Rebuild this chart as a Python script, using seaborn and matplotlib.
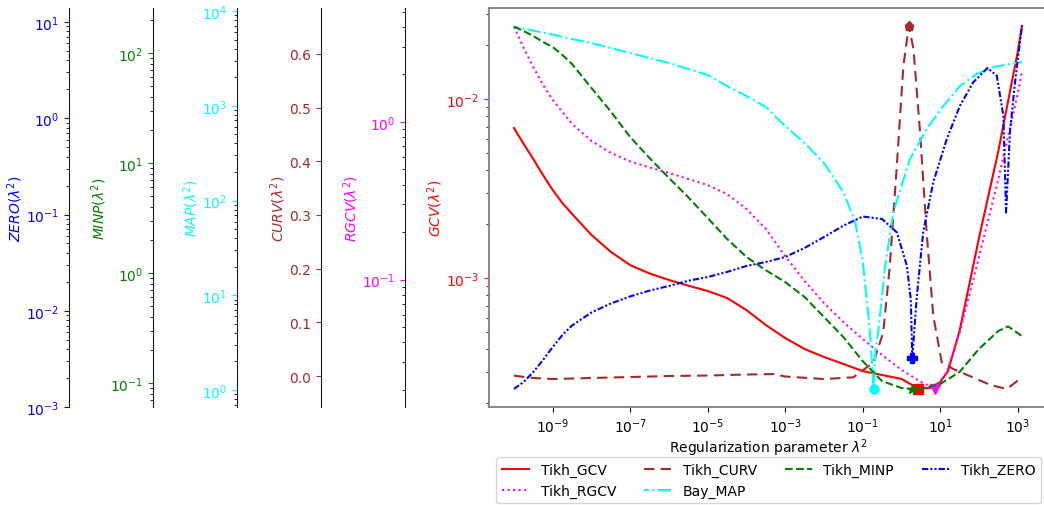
import numpy as np
import matplotlib
matplotlib.use("Agg")
import matplotlib.pyplot as plt
from matplotlib.ticker import NullLocator
import seaborn as sns

# ---------------- data ----------------
# Tikh_GCV
lam2_gcv = [1e-10, 1.78e-10, 3.16e-10, 5.62e-10, 1e-9, 1.78e-9, 3.16e-9, 1e-8, 3.16e-8, 1e-7,
            3.16e-7, 1e-6, 3.16e-6, 1e-5, 3.16e-5, 1e-4, 3.16e-4, 1e-3, 3.16e-3, 1e-2,
            3.16e-2, 0.1, 0.316, 1.0, 2.818, 5.623, 10.0, 15.85, 31.62, 100.0,
            316.2, 1000.0, 1288.0]
gcv = [6.88e-3, 5.61e-3, 4.62e-3, 3.76e-3, 3.10e-3, 2.62e-3, 2.28e-3, 1.74e-3, 1.40e-3, 1.18e-3,
       1.06e-3, 9.75e-4, 9.06e-4, 8.46e-4, 7.73e-4, 6.62e-4, 5.46e-4, 4.62e-4, 4.01e-4, 3.62e-4,
       3.31e-4, 3.02e-4, 2.87e-4, 2.73e-4, 2.40e-4, 2.44e-4, 2.62e-4, 3.02e-4, 5.06e-4, 1.67e-3,
       5.12e-3, 1.83e-2, 2.56e-2]

# Tikh_RGCV
lam2_rgcv = [1e-10, 1.78e-10, 3.16e-10, 5.62e-10, 1e-9, 3.16e-9, 1e-8, 3.16e-8, 1e-7, 3.16e-7,
             1e-6, 3.16e-6, 1e-5, 3.16e-5, 1e-4, 3.16e-4, 1e-3, 3.16e-3, 1e-2, 3.16e-2,
             0.1, 0.316, 1.0, 3.162, 7.244, 14.79, 31.62, 100.0, 316.2, 1000.0,
             1288.0]
rgcv = [4.02, 2.95, 2.23, 1.72, 1.38, 0.971, 0.758, 0.636, 0.562, 0.515,
        0.475, 0.435, 0.398, 0.349, 0.281, 0.210, 0.141, 0.0981, 0.0712, 0.0539,
        0.0421, 0.0333, 0.0268, 0.0225, 0.0203, 0.0260, 0.0459, 0.139, 0.435, 1.50,
        2.11]

# Tikh_CURV
lam2_curv = [1e-10, 3.16e-10, 1e-9, 1e-8, 1e-7, 1e-6, 1e-5, 1e-4, 5.01e-4, 1e-3,
             1e-2, 0.0575, 0.191, 0.339, 0.501, 0.759, 1.122, 1.549, 2.042, 3.020,
             4.467, 6.607, 10.96, 21.88, 87.10, 199.5, 524.8, 1288.0]
curv = [0.0006, -0.0037, -0.0056, -0.0037, -0.0019, 0.0, 0.0009, 0.0028, 0.0037, -0.0009,
        -0.0056, -0.0024, 0.0255, 0.0814, 0.2054, 0.3916, 0.5778, 0.652, 0.609, 0.4538,
        0.2676, 0.1123, 0.0255, 0.0130, -0.0056, -0.0168, -0.0242, -0.0024]

# Bay_MAP
lam2_map = [1e-10, 3.16e-10, 1e-9, 3.16e-9, 1e-8, 3.16e-8, 1e-7, 3.16e-7, 1e-6, 3.16e-6,
            1e-5, 3.16e-5, 1e-4, 3.16e-4, 1e-3, 3.16e-3, 1e-2, 3.16e-2, 0.0631, 0.1,
            0.141, 0.166, 0.191, 0.214, 0.251, 0.380, 0.617, 1.660, 4.467, 12.02,
            32.36, 87.10, 234.4, 1288.0]
bmap = [6818, 6223, 5648, 5063, 4592, 4069, 3603, 3191, 2826, 2443,
        2113, 1615, 1267, 970, 611, 404, 249, 123, 60.8, 23.0,
        5.89, 2.71, 1.03, 2.71, 4.09, 20.4, 75.7, 274, 569, 993,
        1615, 2163, 2564, 2899]

# Tikh_MINP
lam2_minp = [1e-10, 1.78e-10, 3.16e-10, 5.62e-10, 1e-9, 1.78e-9, 3.16e-9, 1e-8, 3.16e-8, 1e-7,
             3.16e-7, 1e-6, 3.16e-6, 1e-5, 3.16e-5, 1e-4, 3.16e-4, 1e-3, 3.16e-3, 1e-2,
             3.16e-2, 0.1, 0.316, 1.0, 1.905, 3.162, 10.0, 31.62, 100.0, 316.2,
             562.3, 1288.0]
minp = [173.4, 158.5, 142.7, 125.9, 113.4, 95.9, 79.4, 48.1, 29.4, 17.2,
        11.1, 7.30, 4.88, 3.16, 2.04, 1.40, 1.06, 0.828, 0.605, 0.398,
        0.262, 0.158, 0.104, 0.0901, 0.0882, 0.0891, 0.0979, 0.126, 0.204, 0.297,
        0.327, 0.267]

# Tikh_ZERO
lam2_zero = [1e-10, 1.78e-10, 3.16e-10, 5.62e-10, 1e-9, 1.78e-9, 3.16e-9, 1e-8, 3.16e-8, 1e-7,
             3.16e-7, 1e-6, 3.16e-6, 1e-5, 3.16e-5, 1e-4, 3.16e-4, 1e-3, 3.16e-3, 1e-2,
             3.16e-2, 0.1, 0.316, 0.759, 1.380, 1.738, 1.905, 2.455, 3.631, 6.607,
             14.79, 32.36, 70.79, 166.0, 288.4, 426.6, 501.2, 631.0, 851.1, 1288.0]
zero = [1.54e-3, 1.82e-3, 2.31e-3, 3.08e-3, 4.20e-3, 5.60e-3, 7.03e-3, 9.59e-3, 1.19e-2, 1.41e-2,
        1.62e-2, 1.81e-2, 2.05e-2, 2.24e-2, 2.53e-2, 2.92e-2, 3.21e-2, 3.62e-2, 4.49e-2, 5.83e-2,
        7.65e-2, 9.53e-2, 8.98e-2, 6.53e-2, 2.94e-2, 1.32e-2, 3.2e-3, 1.32e-2, 6.53e-2, 0.216,
        0.609, 1.35, 2.36, 3.33, 2.77, 1.06, 0.105, 0.715, 2.36, 9.16]

# selected optimum of each method (lambda^2, value)
opt_gcv = (2.70, 2.40e-4)
opt_rgcv = (7.24, 0.0203)
opt_curv = (1.549, 0.652)
opt_map = (0.191, 1.03)
opt_minp = (1.905, 0.0882)
opt_zero = (1.905, 3.2e-3)

xticks = [1e-9, 1e-7, 1e-5, 1e-3, 1e-1, 1e1, 1e3]

# ---------------- figure ----------------
DPI = 100
plt.rcParams['font.family'] = ['DejaVu Sans']
plt.rcParams['font.size'] = 10

fig = plt.figure(figsize=(1044 / DPI, 506 / DPI), dpi=DPI)
ax = fig.add_axes([489 / 1044, 98 / 506, 559 / 1044, 399 / 506])
for s in ax.spines.values():
    s.set_color('0.5')
    s.set_linewidth(1.3)

ax.set_xscale('log')
ax.set_yscale('log')


def make_twin(offset):
    t = ax.twinx()
    t.spines['left'].set_position(('axes', offset))
    t.spines['left'].set_visible(True)
    t.spines['left'].set_color('0.1')
    for s in ['right', 'top', 'bottom']:
        t.spines[s].set_visible(False)
    t.yaxis.set_ticks_position('left')
    t.yaxis.set_label_position('left')
    return t


step = 84 / 559
ax_rgcv = make_twin(-1 * step)
ax_curv = make_twin(-2 * step)
ax_map = make_twin(-3 * step)
ax_minp = make_twin(-4 * step)
ax_zero = make_twin(-5 * step)
for t in [ax_rgcv, ax_map, ax_minp, ax_zero]:
    t.set_yscale('log')

specs = [
    (ax, lam2_gcv, gcv, 'red', '-', 'Tikh_GCV', opt_gcv, 's', r'$GCV(\lambda^2)$', (1.902e-4, 3.224e-2)),
    (ax_rgcv, lam2_rgcv, rgcv, 'magenta', ':', 'Tikh_RGCV', opt_rgcv, 'v', r'$RGCV(\lambda^2)$', (0.01559, 5.28)),
    (ax_curv, lam2_curv, curv, 'brown', (0, (5, 3)), 'Tikh_CURV', opt_curv, 'p', r'$CURV(\lambda^2)$', (-0.0577, 0.6853)),
    (ax_map, lam2_map, bmap, 'cyan', (4, (6.4, 1.6, 1.0, 1.6)), 'Bay_MAP', opt_map, 'o', r'$MAP(\lambda^2)$', (0.6616, 10757)),
    (ax_minp, lam2_minp, minp, 'green', '--', 'Tikh_MINP', opt_minp, '*', r'$MINP(\lambda^2)$', (0.0605, 256.6)),
    (ax_zero, lam2_zero, zero, 'blue', (0, (3, 1, 1, 1, 1, 1)), 'Tikh_ZERO', opt_zero, 'P', r'$ZERO(\lambda^2)$', (1e-3, 13.98)),
]

handles = {}
for a, xs, ys, col, ls, lab, opt, mk, ylab, ylim in specs:
    sns.lineplot(x=xs, y=ys, ax=a, color=col, linestyle=ls, linewidth=1.5,
                 label=lab, legend=False, sort=False, errorbar=None)
    handles[lab] = a.lines[-1]
    a.plot([opt[0]], [opt[1]], marker=mk, color=col, markersize=6.5, linestyle='none')
    a.set_ylim(*ylim)
    a.set_ylabel(ylab, color=col, labelpad=1)
    a.tick_params(axis='y', which='major', colors=col)

ax.set_xlim(2.27e-11, 6.05e3)
ax.set_xticks(xticks)
ax.xaxis.set_minor_locator(NullLocator())
ax.set_xlabel(r'Regularization parameter $\lambda^2$', labelpad=0.5)

order = ['Tikh_GCV', 'Tikh_RGCV', 'Tikh_CURV', 'Bay_MAP', 'Tikh_MINP', 'Tikh_ZERO']
leg = ax_zero.legend([handles[k] for k in order], order, loc='upper center',
                     bbox_to_anchor=(0.5, -0.108), ncol=4)

fig.savefig('out.png', dpi=DPI)
